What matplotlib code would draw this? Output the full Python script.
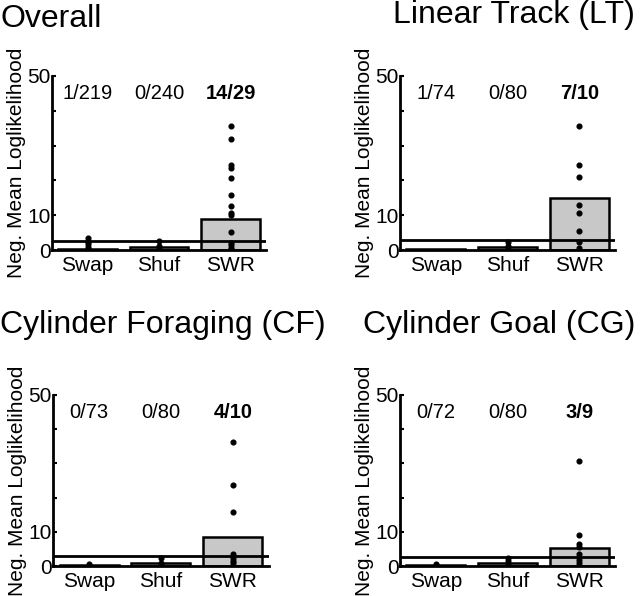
import matplotlib.pyplot as plt

plt.rcParams['font.family'] = ['Liberation Sans', 'DejaVu Sans']

# data
groups = ['Swap', 'Shuf', 'SWR']
titles = ['Overall', 'Linear Track (LT)', 'Cylinder Foraging (CF)', 'Cylinder Goal (CG)']
counts = [['1/219', '0/240', '14/29'],
          ['1/74', '0/80', '7/10'],
          ['0/73', '0/80', '4/10'],
          ['0/72', '0/80', '3/9']]
bar_means = [[0.3, 0.8, 9.0],
             [0.2, 0.8, 15.0],
             [0.3, 0.8, 8.5],
             [0.3, 0.8, 5.3]]
threshold = [2.7, 3.0, 2.9, 2.7]

overall_swap = [3.4, 2.4, 1.6, 1.0, 0.4]
overall_shuf = [2.6, 1.2, 0.3]
overall_swr = [35.7, 31.8, 24.3, 23.7, 20.7, 15.7, 12.6, 10.5, 10.1, 5.3, 2.1, 1.4, 0.7, 0.2]
lt_swap = []
lt_shuf = [2.4, 1.1, 0.3]
lt_swr = [35.7, 24.5, 20.9, 12.9, 10.7, 5.6, 2.3, 0.5]
cf_swap = [0.5]
cf_shuf = [2.4, 1.0, 0.3]
cf_swr = [36.2, 23.8, 15.9, 3.4, 2.4, 1.5, 1.0]
cg_swap = [0.5]
cg_shuf = [2.4, 1.5, 0.4]
cg_swr = [30.6, 9.2, 6.3, 5.5, 3.4, 1.9, 1.0]

points = [[overall_swap, overall_shuf, overall_swr],
          [lt_swap, lt_shuf, lt_swr],
          [cf_swap, cf_shuf, cf_swr],
          [cg_swap, cg_shuf, cg_swr]]

fig = plt.figure(figsize=(6.4, 5.96), dpi=100)

# axes rectangles in figure fractions
rects = [[0.081, 0.5805, 0.335, 0.292],
         [0.625, 0.5805, 0.336, 0.292],
         [0.083, 0.0503, 0.337, 0.287],
         [0.625, 0.0503, 0.336, 0.287]]
title_pos = [(0.0, 0.955, 'left'), (0.992, 0.961, 'right'),
             (0.0, 0.441, 'left'), (0.992, 0.441, 'right')]

xs = [1, 2, 3]
for k in range(4):
    ax = fig.add_axes(rects[k])
    ax.bar(xs, bar_means[k], width=0.82, color='#c8c8c8', edgecolor='black', linewidth=1.8, zorder=2)
    for i, vals in enumerate(points[k]):
        ax.plot([xs[i]] * len(vals), vals, 'o', color='black', markersize=3.4, zorder=3)
    ax.axhline(threshold[k], color='black', linewidth=2, zorder=4)
    for i, c in enumerate(counts[k]):
        ax.text(xs[i], 45, c, ha='center', va='center', fontsize=14.5,
                fontweight='bold' if i == 2 else 'normal')
    ax.set_xlim(0.5, 3.5)
    ax.set_ylim(0, 50)
    ax.set_yticks([0, 10, 20, 30, 40, 50])
    ax.set_yticklabels(['0', '10', '', '', '', '50'])
    ax.set_xticks(xs)
    ax.set_xticklabels(groups)
    ax.tick_params(axis='y', direction='in', length=3, width=1.5, labelsize=15, pad=1)
    ax.tick_params(axis='x', length=0, labelsize=15, pad=4)
    ax.set_ylabel('Neg. Mean Loglikelihood', fontsize=15, labelpad=1)
    for s in ['top', 'right']:
        ax.spines[s].set_visible(False)
    for s in ['left', 'bottom']:
        ax.spines[s].set_linewidth(2)
    x, y, ha = title_pos[k]
    fig.text(x, y, titles[k], ha=ha, va='baseline', fontsize=23)

fig.savefig('out.png', dpi=100)
